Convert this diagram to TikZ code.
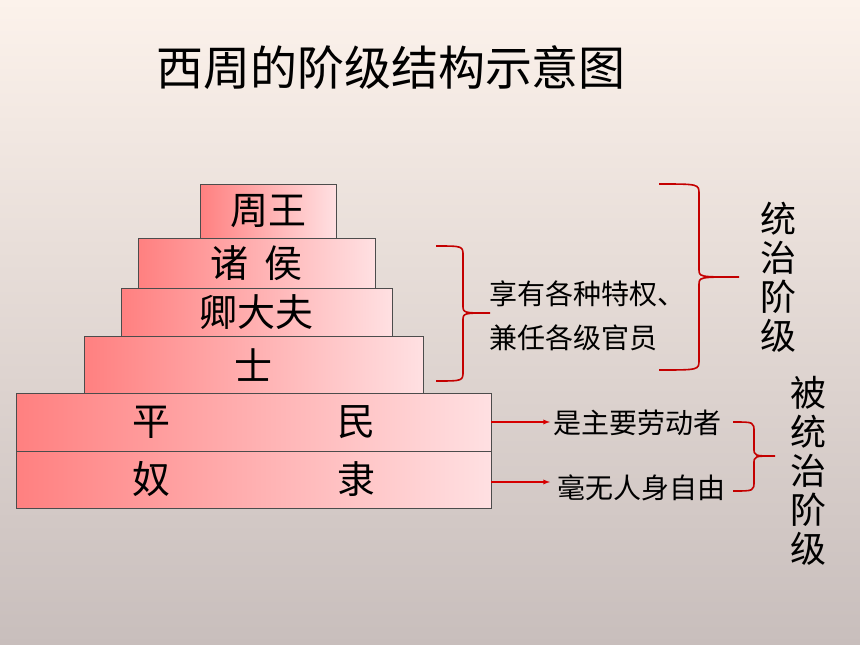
\documentclass[tikz,border=0pt]{standalone}
\usepackage{fontspec}
\setmainfont{Noto Sans CJK SC}

\definecolor{bgTop}{RGB}{252,242,235}
\definecolor{bgMid}{RGB}{239,228,222}
\definecolor{bgBottom}{RGB}{200,190,188}
\definecolor{layerL}{RGB}{255,128,128}
\definecolor{layerR}{RGB}{255,224,226}
\definecolor{braceRed}{RGB}{196,0,0}
\definecolor{arrRed}{RGB}{214,0,0}

\begin{document}
\begin{tikzpicture}[
        x=1pt, y=-1pt, % pixel grid, y downwards
        layer/.style = {draw=black!70, line width=0.6pt, left color=layerL, right color=layerR,
                        inner sep=0pt, font=\fontsize{38}{38}\selectfont},
        note/.style = {anchor=west, inner sep=0pt, font=\fontsize{28}{28}\selectfont},
        vtext/.style = {align=center, inner sep=0pt, font=\fontsize{36}{39}\selectfont},
        bracket/.style = {draw=braceRed, line width=1.6pt},
        arr/.style = {draw=arrRed, line width=1.3pt, -latex},
    ]

    % background
    \fill[top color=bgTop, middle color=bgMid, bottom color=bgBottom] (0,0) rectangle (860,645);

    \node[font=\fontsize{47}{47}\selectfont] (title) at (391,68) {西周的阶级结构示意图};

    % pyramid
    \node[layer, minimum width=136pt, minimum height=54pt] (king) at (268,211) {周王};
    \node[layer, minimum width=237pt, minimum height=50pt] (lords) at (256.5,263) {诸\hspace{17pt}侯};
    \node[layer, minimum width=271pt, minimum height=48pt] (nobles) at (256.5,312) {卿大夫};
    \node[layer, minimum width=339pt, minimum height=58pt] (shi) at (253.5,365) {士};
    \node[layer, minimum width=475pt, minimum height=58pt] (plain) at (253.5,422) {平\hspace{167pt}民};
    \node[layer, minimum width=475pt, minimum height=57pt] (slave) at (253.5,479.5) {奴\hspace{167pt}隶};

    % notes
    \node[note] (priv) at (489,294) {享有各种特权、};
    \node[note] (office) at (489,338) {兼任各级官员};
    \node[note] (work) at (553,423) {是主要劳动者};
    \node[note] (free) at (557,488) {毫无人身自由};

    \node[vtext] (ruling) at (778,277) {统\\治\\阶\\级};
    \node[vtext] (ruled) at (808,471) {被\\统\\治\\阶\\级};

    % braces: x / top / middle / bottom / spine offset
    \foreach \x/\t/\m/\b/\h in {436/246/313/381/27, 659/184/277/370/40, 733/422/456/491/21}
        \draw[bracket] (\x,\t) .. controls (\x+\h,\t) .. (\x+\h,\t+10) -- (\x+\h,\m-8)
            .. controls (\x+\h,\m) .. (\x+2*\h,\m) .. controls (\x+\h,\m) .. (\x+\h,\m+8)
            -- (\x+\h,\b-10) .. controls (\x+\h,\b) .. (\x,\b);

    % arrows
    \draw[arr, shorten >=3pt] (plain.east) -- (plain.east -| work.west);
    \draw[arr, shorten >=7pt] (slave.east) ++(0,2.5) -- (free.west |- {(0,482)});

\end{tikzpicture}
\end{document}
